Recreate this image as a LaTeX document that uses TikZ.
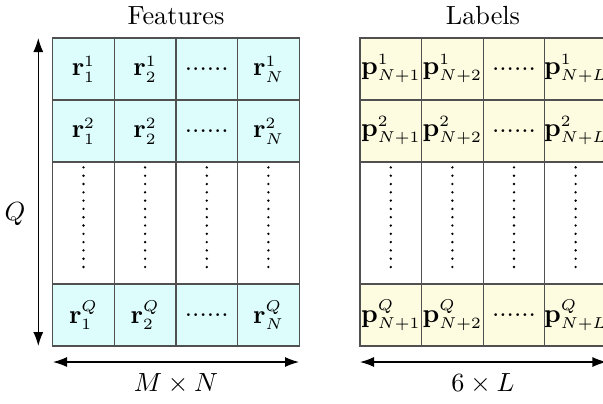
\documentclass[tikz,border=0pt]{standalone}
\DeclareMathSizes{10}{10}{6}{5}
\usetikzlibrary{arrows.meta}
\definecolor{featfill}{HTML}{DDFDFD}
\definecolor{labfill}{HTML}{FDFCE0}
\definecolor{gridline}{HTML}{505050}
\begin{document}
\begin{tikzpicture}[x=0.381pt,y=-0.381pt,
  cell/.style={draw=gridline,line width=0.45pt,minimum width=61.6*0.381pt,minimum height=62*0.381pt,inner sep=0pt,anchor=center},
  dotcell/.style={cell,minimum height=122*0.381pt},
  vdotline/.style={line width=1.0pt,line cap=round,dash pattern=on 0pt off 8.3*0.381pt},
  dimarrow/.style={line width=0.45pt,{Latex[length=14*0.381pt,width=10*0.381pt]}-{Latex[length=14*0.381pt,width=10*0.381pt]}},
  title/.style={font=\normalsize}
]
\useasboundingbox (0,0) rectangle (603,403);
\clip (0,0) rectangle (603,403);
% Features grid
\foreach \c/\x/\s in {1/83.5/1, 2/145.1/2, 4/268.4/N} {
  \node[cell,fill=featfill] (fa\c) at (\x,69) {$\mathbf{r}^1_{\s}$};
  \node[cell,fill=featfill] (fb\c) at (\x,131) {$\mathbf{r}^2_{\s}$};
  \node[dotcell] (fc\c) at (\x,223) {};
  \node[cell,fill=featfill] (fd\c) at (\x,315) {$\mathbf{r}^Q_{\s}$};
}
\node[cell,fill=featfill] (fa3) at (206.8,69) {......};
\node[cell,fill=featfill] (fb3) at (206.8,131) {......};
\node[dotcell] (fc3) at (206.8,223) {};
\node[cell,fill=featfill] (fd3) at (206.8,315) {......};
% Labels grid
\foreach \c/\x/\s in {1/390.8/N+1, 2/452.4/N+2, 4/575.6/N+L} {
  \node[cell,fill=labfill] (la\c) at (\x,69) {$\mathbf{p}^1_{\s}$};
  \node[cell,fill=labfill] (lb\c) at (\x,131) {$\mathbf{p}^2_{\s}$};
  \node[dotcell] (lc\c) at (\x,223) {};
  \node[cell,fill=labfill] (ld\c) at (\x,315) {$\mathbf{p}^Q_{\s}$};
}
\node[cell,fill=labfill] (la3) at (514,69) {......};
\node[cell,fill=labfill] (lb3) at (514,131) {......};
\node[dotcell] (lc3) at (514,223) {};
\node[cell,fill=labfill] (ld3) at (514,315) {......};
% vertical dots
\foreach \c in {1,2,3,4} {
  \draw[vdotline] ([yshift=-6*0.381pt]fc\c.north) -- ([yshift=13*0.381pt]fc\c.south);
  \draw[vdotline] ([yshift=-6*0.381pt]lc\c.north) -- ([yshift=13*0.381pt]lc\c.south);
}
% titles
\node[title] (ftitle) at (176,16) {Features};
\node[title] (ltitle) at (483,16) {Labels};
% dimension arrows
\coordinate (qtop) at (38.3,38);
\coordinate (qbot) at (38.3,346);
\draw[dimarrow] (qtop) -- (qbot);
\node[title] (qlab) at (15,214) {$Q$};
\coordinate (mnl) at (53,362);
\coordinate (mnr) at (299,362);
\draw[dimarrow] (mnl) -- (mnr);
\node[title] (mnlab) at (176,384) {$M\times N$};
\coordinate (ll) at (360,362);
\coordinate (lr) at (606.4,362);
\draw[dimarrow] (ll) -- (lr);
\node[title] (llab) at (483,384) {$6\times L$};
\end{tikzpicture}
\end{document}
